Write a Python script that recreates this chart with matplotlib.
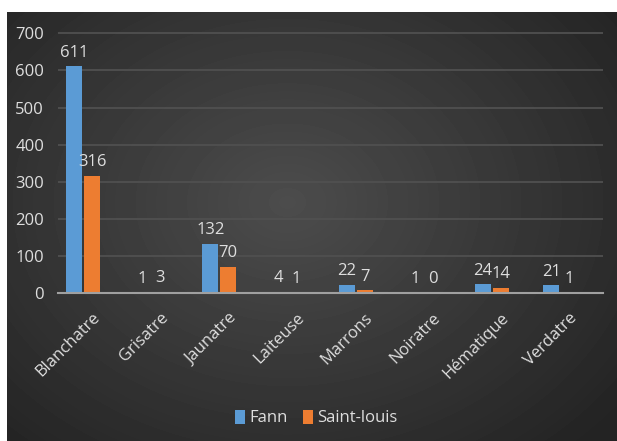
import numpy as np
import matplotlib
matplotlib.use("Agg")
import matplotlib.pyplot as plt

categories = ["Blanchatre", "Grisatre", "Jaunatre", "Laiteuse", "Marrons",
              "Noiratre", "Hématique", "Verdatre"]
fann = [611, 1, 132, 4, 22, 1, 24, 21]
saint_louis = [316, 3, 70, 1, 7, 0, 14, 1]

BLUE = "#5b9bd5"
ORANGE = "#ed7d31"
TXT = "#dedede"
FS = 12

plt.rcParams["font.family"] = ["Open Sans", "DejaVu Sans"]

W, H = 617, 441
fig = plt.figure(figsize=(W / 100, H / 100), dpi=100)
fig.patch.set_facecolor("white")

# dark radial gradient behind the chart
bg = fig.add_axes([7 / W, 0, 1 - 7 / W, 1 - 12 / H])
yy, xx = np.mgrid[0:429, 0:610]
r = np.hypot((xx - 280) / 420, (yy - 190) / 330)
shade = np.clip(0.30 - 0.16 * r, 0.14, 0.30)
bg.imshow(shade, cmap="gray", vmin=0, vmax=1, aspect="auto",
          extent=[0, 1, 0, 1], origin="upper")
bg.set_axis_off()

ax = fig.add_axes([58 / W, (H - 293) / H, (603 - 58) / W, (293 - 29.6) / H])
ax.set_facecolor("none")

x = np.arange(len(categories))
bw = 0.235
off = 0.132
b1 = ax.bar(x - off, fann, bw, color=BLUE, label="Fann", zorder=3)
b2 = ax.bar(x + off, saint_louis, bw, color=ORANGE, label="Saint-louis", zorder=3)
ax.bar_label(b1, padding=4, color=TXT, fontsize=FS)
ax.bar_label(b2, padding=4, color=TXT, fontsize=FS)

ax.set_xlim(-0.367, 7.63)
ax.set_ylim(0, 710)
ax.set_yticks(range(0, 701, 100))
ax.yaxis.grid(True, color="#505050", linewidth=1.3, zorder=0)
ax.set_axisbelow(True)
for s in ["top", "right", "left"]:
    ax.spines[s].set_visible(False)
ax.spines["bottom"].set_color("#a0a0a0")
ax.spines["bottom"].set_linewidth(1.5)
ax.spines["bottom"].set_zorder(4)

ax.set_xticks(x + off)
ax.set_xticklabels(categories, rotation=45, ha="right", rotation_mode="anchor",
                   color=TXT, fontsize=FS)
ax.tick_params(axis="x", length=0, pad=12)
ax.tick_params(axis="y", length=0, pad=10, colors=TXT, labelsize=FS)

fig.legend(loc="center", bbox_to_anchor=(316 / W, (H - 418) / H), ncol=2,
           frameon=False, fontsize=FS, labelcolor=TXT, handlelength=0.6,
           handleheight=0.9, handletextpad=0.25, columnspacing=0.9)

fig.savefig("out.png", dpi=100)
